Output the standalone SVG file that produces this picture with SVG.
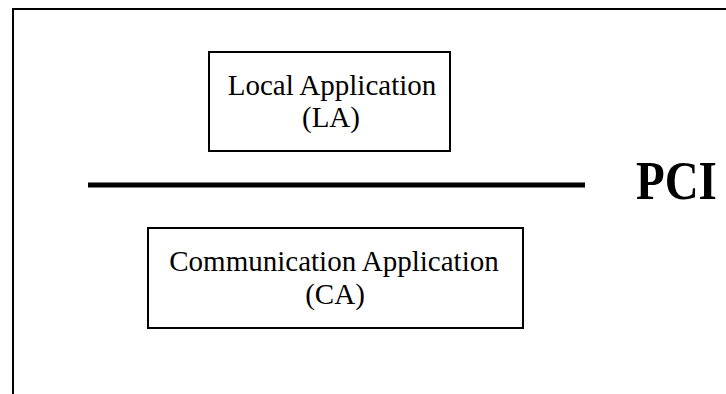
<svg xmlns="http://www.w3.org/2000/svg" width="726" height="394" viewBox="0 0 726 394">
<style>
.box{fill:#fff;stroke:#000;stroke-width:2}
.t{font-family:"Liberation Serif","Times New Roman",serif;font-size:29px;fill:#000;text-anchor:middle}
.b{font-family:"Liberation Serif","Times New Roman",serif;font-size:47px;font-weight:bold;fill:#000}
</style>
<rect width="726" height="394" fill="#fff"/>
<g id="frame">
<path d="M13,395 V9 H727" fill="none" stroke="#000" stroke-width="2"/>
</g>
<g id="la">
<rect class="box" x="209" y="52" width="241" height="99"/>
<text class="t" x="332" y="95">Local Application</text>
<text class="t" x="331" y="127">(LA)</text>
</g>
<g id="pci">
<line x1="88" y1="185" x2="585" y2="185" stroke="#000" stroke-width="5"/>
<text class="b" transform="translate(636,199) scale(1,1.15)">PCI</text>
</g>
<g id="ca">
<rect class="box" x="148" y="228" width="375" height="100"/>
<text class="t" x="334" y="271">Communication Application</text>
<text class="t" x="335" y="304">(CA)</text>
</g>
<g id="connectors"></g>
</svg>
